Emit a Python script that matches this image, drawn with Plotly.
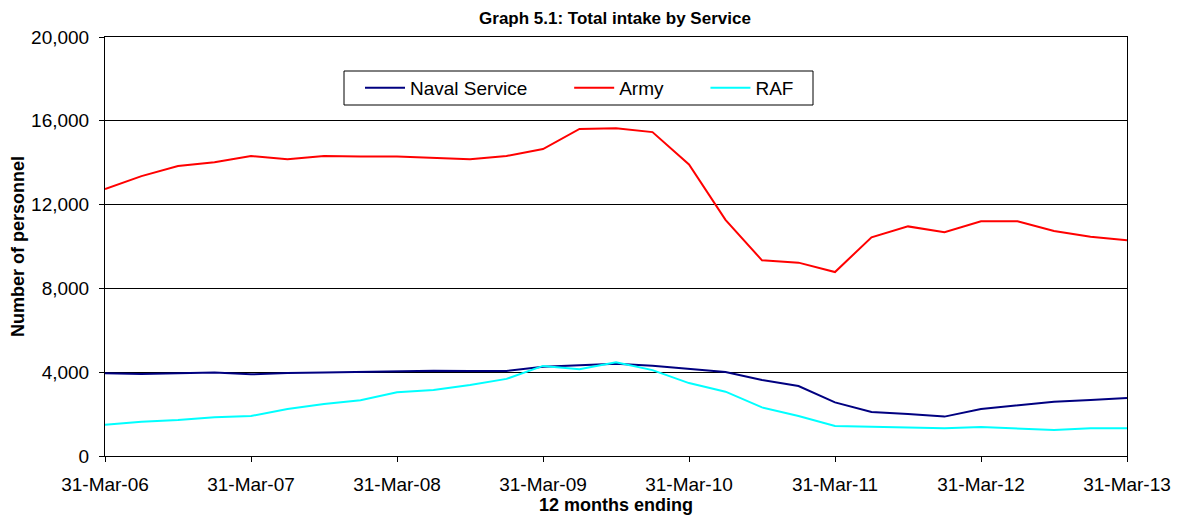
import plotly.graph_objects as go

tick_labels = ["31-Mar-06", "31-Mar-07", "31-Mar-08", "31-Mar-09", "31-Mar-10", "31-Mar-11", "31-Mar-12", "31-Mar-13"]
quarters = list(range(29))
series_names = ["Naval Service", "Army", "RAF"]

naval = [3950, 3910, 3950, 3990, 3900, 3960, 3980, 4010, 4040, 4070, 4060, 4060, 4260, 4340, 4400, 4310,
         4150, 4010, 3630, 3340, 2560, 2100, 2000, 1880, 2240, 2430, 2590, 2670, 2770]
army = [12740, 13360, 13840, 14020, 14320, 14160, 14320, 14290, 14300, 14240, 14160, 14320, 14650, 15610, 15640, 15460,
        13920, 11270, 9340, 9230, 8780, 10440, 10960, 10680, 11200, 11200, 10740, 10470, 10300]
raf = [1490, 1640, 1720, 1850, 1910, 2240, 2480, 2660, 3040, 3150, 3390, 3680, 4300, 4140, 4470, 4100,
       3480, 3070, 2320, 1910, 1430, 1400, 1370, 1320, 1380, 1320, 1240, 1320, 1320]

font = "Liberation Sans, Arial, sans-serif"

fig = go.Figure()
fig.add_trace(go.Scatter(x=quarters, y=naval, mode="lines", name=series_names[0] + "\u00a0" * 7,
                         line=dict(color="#000080", width=2)))
fig.add_trace(go.Scatter(x=quarters, y=army, mode="lines", name=series_names[1] + "\u00a0" * 7,
                         line=dict(color="#ff0000", width=2)))
fig.add_trace(go.Scatter(x=quarters, y=raf, mode="lines", name=series_names[2],
                         line=dict(color="#00ffff", width=2)))

# legend frame (plot area spans 1022 x 419 px)
fig.add_shape(type="rect", xref="paper", yref="paper",
              x0=(344 - 105) / 1022, x1=(813 - 105) / 1022,
              y0=(456 - 105) / 419, y1=(456 - 71) / 419,
              line=dict(color="black", width=1), fillcolor="white", layer="below")

fig.update_layout(
    width=1174, height=510,
    margin=dict(l=97, r=55, t=29, b=62),
    paper_bgcolor="white", plot_bgcolor="white",
    font=dict(family=font, size=18, color="black"),
    title=dict(text="<b>Graph 5.1: Total intake by Service</b>", x=0.517, xanchor="center",
               y=0.981, yanchor="middle", font=dict(size=17, family=font)),
    showlegend=True,
    legend=dict(orientation="h", x=(360 - 105) / 1022, y=(456 - 88) / 419, xanchor="left", yanchor="middle",
                borderwidth=0, bgcolor="rgba(0,0,0,0)",
                font=dict(size=19, family=font), itemwidth=40, tracegroupgap=0),
)

fig.update_xaxes(
    range=[0, 28], tickvals=[0, 4, 8, 12, 16, 20, 24, 28], ticktext=tick_labels,
    showgrid=False, zeroline=False, showline=True, linecolor="black", linewidth=1,
    mirror=True, ticks="outside", ticklen=5, tickcolor="black", automargin=False,
    tickfont=dict(size=19, family=font), ticklabelstandoff=6,
    title=dict(text="<b>12 months ending</b>", font=dict(size=18, family=font), standoff=0),
)
fig.update_yaxes(
    range=[0, 20000], tickvals=[0, 4000, 8000, 12000, 16000, 20000], tickformat=",d",
    showgrid=True, gridcolor="black", gridwidth=1, zeroline=False,
    showline=True, linecolor="black", linewidth=1, mirror=True,
    ticks="outside", ticklen=5, tickcolor="black", automargin=False,
    tickfont=dict(size=19, family=font), ticklabelstandoff=6,
    title=dict(text="<b>Number of personnel</b>", font=dict(size=18, family=font), standoff=6),
)

fig.write_html("out.html")
